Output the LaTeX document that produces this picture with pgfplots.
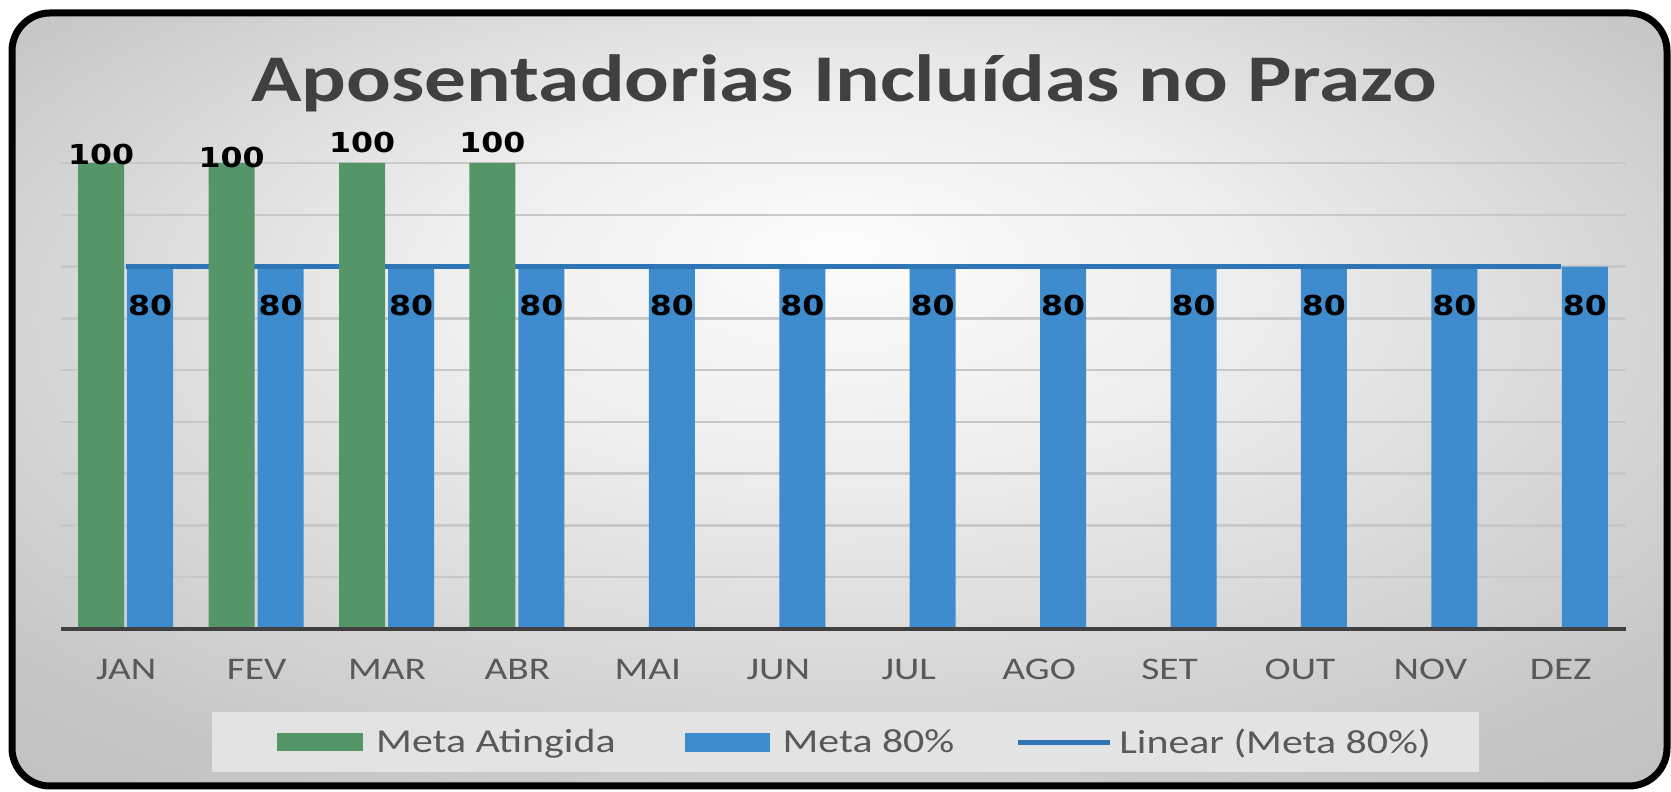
\documentclass[border=0pt]{standalone}
\usepackage{pgfplots}
\pgfplotsset{compat=1.18}
\usepackage{pgfplotstable}
\usepackage{fontspec}
\setmainfont{Carlito}[FakeStretch=1.25]
\newfontfamily\labelfont{DejaVu Sans}[FakeStretch=1.15]
\definecolor{gbar}{RGB}{85,150,105}
\definecolor{bbar}{RGB}{62,140,205}
\definecolor{tline}{RGB}{46,117,182}
\definecolor{titlec}{RGB}{64,64,64}
\definecolor{tickc}{RGB}{89,89,89}
\definecolor{basec}{RGB}{64,64,64}
\definecolor{gridc}{RGB}{200,200,200}
\definecolor{legc}{RGB}{227,227,227}
\definecolor{bgA}{RGB}{252,252,252}
\definecolor{bgB}{RGB}{238,238,238}
\definecolor{bgC}{RGB}{214,214,214}
\definecolor{bgD}{RGB}{198,198,198}
\definecolor{bgE}{RGB}{182,182,182}
\pgfdeclareradialshading{bgshade}{\pgfpoint{0bp}{10bp}}{color(0bp)=(bgA); color(12bp)=(bgB); color(24bp)=(bgC); color(32bp)=(bgD); color(50bp)=(bgE)}

\pgfplotstableread{
x y dy
0 100 -12
1 100 -15
2 100 0
3 100 0
}\greendata
\pgfplotstableread{
x y
0 80
1 80
2 80
3 80
4 80
5 80
6 80
7 80
8 80
9 80
10 80
11 80
}\bluedata

\begin{document}
\begin{tikzpicture}[x=1bp,y=1bp]
\useasboundingbox (0,0) rectangle (1671,792);
\shade[shading=bgshade, rounded corners=38bp] (12,6) rectangle (1667,779);
\draw[line width=7bp, black, rounded corners=38bp] (12,6) rectangle (1667,779);
\node[anchor=base, text=titlec, font=\fontsize{66.7bp}{71bp}\selectfont\bfseries] at (844,690) {Aposentadorias Incluídas no Prazo};

\begin{axis}[
  at={(61bp,163bp)}, anchor=south west, scale only axis,
  width=1565bp, height=466bp,
  xmin=-0.5, xmax=11.5, ymin=0, ymax=102.857,
  axis line style={draw=none}, tick style={draw=none},
  ymajorgrids, grid style={gridc, line width=2.5bp},
  ytick={0,11.4286,22.8571,34.2857,45.7143,57.1429,68.5714,80,91.4286,102.857},
  yticklabels={},
  xtick={0,1,2,3,4,5,6,7,8,9,10,11},
  xticklabels={JAN,FEV,MAR,ABR,MAI,JUN,JUL,AGO,SET,OUT,NOV,DEZ},
  xticklabel style={anchor=base, yshift=-51bp, text=tickc, font=\fontsize{31.5bp}{34bp}\selectfont},
  clip=false,
]
\addplot[ybar, bar width=46bp, bar shift=24bp, fill=bbar, draw=none,
  nodes near coords, point meta=explicit symbolic,
  every node near coord/.append style={anchor=center, xshift=24bp, yshift=-39bp, text=black, font=\fontsize{27.5bp}{30bp}\selectfont\labelfont\bfseries}]
  table[x=x, y=y, meta=y] {\bluedata};
\addplot[sharp plot, no marks, tline, line width=5bp] coordinates {(0,80) (11,80)};
\end{axis}

\begin{axis}[
  at={(61bp,163bp)}, anchor=south west, scale only axis,
  width=1565bp, height=466bp,
  xmin=-0.5, xmax=11.5, ymin=0, ymax=100,
  hide axis, clip=false,
  legend columns=3,
  legend style={at={(0.0965,-0.2425)}, anchor=west, draw=none, fill=legc, inner sep=0bp,
    font=\fontsize{33.5bp}{35bp}\selectfont, text=tickc,
    nodes={inner sep=0bp},
    /tikz/every even column/.append style={column sep=0bp},
    /tikz/every odd column/.append style={column sep=0bp}},
]
\addplot[ybar, bar width=46bp, bar shift=-25bp, fill=gbar, draw=none,
  visualization depends on={\thisrow{dy} \as \labdy},
  nodes near coords, point meta=explicit symbolic,
  every node near coord/.append style={anchor=center, xshift=-25bp, yshift={(20+\labdy)*1bp}, text=black, font=\fontsize{27.5bp}{30bp}\selectfont\labelfont\bfseries},
  legend image code/.code={\path[draw=none, fill=none] (-65bp,-30bp) rectangle (99bp,30bp); \fill[gbar] (0bp,-9bp) rectangle (86bp,9bp);}]
  table[x=x, y=y, meta=y] {\greendata};
\addlegendentry{Meta Atingida}
\addlegendimage{legend image code/.code={\path[draw=none, fill=none] (-70bp,0bp) -- (97bp,0bp); \fill[bbar] (0bp,-9bp) rectangle (84bp,9bp);}}
\addlegendentry{Meta 80\%}
\addlegendimage{legend image code/.code={\path[draw=none, fill=none] (-64bp,0bp) -- (101bp,0bp); \draw[tline, line width=5bp] (0bp,0bp) -- (92bp,0bp);}}
\addlegendentry{Linear (Meta 80\%)\hbox{\kern48bp}}
\draw[line width=4bp, basec] (rel axis cs:0,0) -- (rel axis cs:1,0);
\end{axis}
\end{tikzpicture}
\end{document}
